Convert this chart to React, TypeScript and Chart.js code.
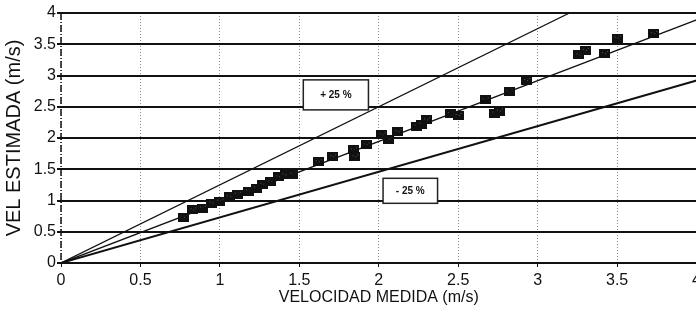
import React, { useEffect, useRef } from 'react';
import { Chart, registerables } from 'chart.js';

Chart.register(...registerables);

// Measured vs estimated velocity (m/s)
const measured = [0.77, 0.83, 0.89, 0.95, 1.0, 1.06, 1.11, 1.18, 1.23, 1.27, 1.32, 1.37, 1.41, 1.46, 1.62, 1.71, 1.84, 1.85, 1.92, 2.02, 2.06, 2.12, 2.24, 2.27, 2.3, 2.45, 2.5, 2.67, 2.73, 2.76, 2.82, 2.93, 3.26, 3.3, 3.42, 3.5, 3.73];
const estimated = [0.73, 0.85, 0.88, 0.96, 0.99, 1.06, 1.1, 1.15, 1.2, 1.26, 1.3, 1.38, 1.41, 1.42, 1.62, 1.7, 1.81, 1.7, 1.89, 2.05, 1.98, 2.1, 2.19, 2.22, 2.29, 2.39, 2.36, 2.61, 2.4, 2.43, 2.74, 2.92, 3.33, 3.4, 3.35, 3.6, 3.67];

// Reference lines (x from 0 to 4)
const lineX = [0, 4];
const plus25Y = [0, 5];
const fitY = [0, 3.89];
const minus25Y = [0, 2.92];

// Axis ticks
const tickMin = 0;
const tickMax = 4;
const tickStep = 0.5;

// Label boxes in data units
const boxLabels = ['+ 25 %', '- 25 %'];
const boxX0 = [1.525, 2.027];
const boxX1 = [1.935, 2.37];
const boxY0 = [2.45, 0.955];
const boxY1 = [2.93, 1.355];

const xTitle = 'VELOCIDAD MEDIDA (m/s)';
const yTitle = 'VEL ESTIMADA (m/s)';

const fmt = (v: any) => String(Number(v));

export default function App() {
  const ref = useRef<HTMLCanvasElement | null>(null);

  useEffect(() => {
    document.body.style.margin = '0';
    const canvas = ref.current;
    if (!canvas) return;

    const marker = document.createElement('canvas');
    marker.width = 11;
    marker.height = 9;
    const mctx = marker.getContext('2d')!;
    mctx.fillStyle = '#111';
    mctx.fillRect(0, 0, 11, 9);
    mctx.fillStyle = '#555';
    mctx.fillRect(3, 3, 1, 1);
    mctx.fillRect(6, 4, 1, 1);
    mctx.fillRect(8, 2, 1, 1);

    const axisPlugin = {
      id: 'yAxisLine',
      beforeDatasetsDraw(chart: any) {
        const { ctx, chartArea } = chart;
        ctx.save();
        ctx.strokeStyle = '#111';
        ctx.lineWidth = 1.5;
        ctx.setLineDash([7, 2, 1, 2]);
        ctx.beginPath();
        ctx.moveTo(chartArea.left, chartArea.top);
        ctx.lineTo(chartArea.left, chartArea.bottom);
        ctx.stroke();
        ctx.restore();
      },
    };

    const boxPlugin = {
      id: 'boxes',
      afterDatasetsDraw(chart: any) {
        const { ctx, scales } = chart;
        const xs = scales.x;
        const ys = scales.y;
        ctx.save();
        for (let i = 0; i < boxLabels.length; i++) {
          const l = xs.getPixelForValue(boxX0[i]);
          const r = xs.getPixelForValue(boxX1[i]);
          const t = ys.getPixelForValue(boxY1[i]);
          const b = ys.getPixelForValue(boxY0[i]);
          ctx.fillStyle = '#fff';
          ctx.fillRect(l, t, r - l, b - t);
          ctx.strokeStyle = '#222';
          ctx.lineWidth = 1.5;
          ctx.strokeRect(l, t, r - l, b - t);
          ctx.fillStyle = '#111';
          ctx.font = 'bold 10px "Liberation Sans", Arial, sans-serif';
          ctx.textAlign = 'center';
          ctx.textBaseline = 'middle';
          ctx.fillText(boxLabels[i], (l + r) / 2, (t + b) / 2);
        }
        ctx.restore();
      },
    };

    const mk = (ys: number[], w: number) => ({
      type: 'scatter' as const,
      data: lineX.map((x, i) => ({ x, y: ys[i] })),
      showLine: true,
      borderColor: '#111',
      borderWidth: w,
      pointRadius: 0,
      fill: false,
    });

    const chart = new Chart(canvas, {
      type: 'scatter',
      data: {
        datasets: [
          mk(plus25Y, 1.2),
          mk(fitY, 1.4),
          mk(minus25Y, 2),
          {
            type: 'scatter',
            data: measured.map((x, i) => ({ x, y: estimated[i] })),
            pointStyle: marker as any,
            pointRadius: 5,
            backgroundColor: '#111',
            borderColor: '#111',
          } as any,
        ],
      },
      options: {
        animation: false,
        responsive: false,
        devicePixelRatio: 1,
        layout: { padding: { top: 13, right: 4, left: 0, bottom: 0 } },
        plugins: { legend: { display: false }, tooltip: { enabled: false } },
        scales: {
          x: {
            type: 'linear',
            min: tickMin,
            max: tickMax,
            ticks: {
              stepSize: tickStep,
              color: '#111',
              padding: 4,
              maxRotation: 0,
              callback: fmt,
              font: { family: '"Liberation Sans", Arial, sans-serif', size: 16 },
            },
            grid: {
              color: '#888',
              lineWidth: 1,
              tickLength: 4,
              tickColor: '#111',
            },
            border: { display: true, color: '#111', width: 2, dash: [1, 2] },
            title: {
              display: true,
              text: xTitle,
              color: '#111',
              padding: { top: 0, bottom: 14 },
              font: { family: '"Liberation Sans", Arial, sans-serif', size: 16, lineHeight: 1.2 },
            },
            afterFit: (s: any) => {
              s.height = 58;
            },
          },
          y: {
            type: 'linear',
            min: tickMin,
            max: tickMax,
            ticks: {
              stepSize: tickStep,
              color: '#111',
              padding: 1,
              callback: fmt,
              font: { family: '"Liberation Sans", Arial, sans-serif', size: 16 },
            },
            grid: {
              color: '#111',
              lineWidth: 2,
              tickLength: 4,
              tickColor: '#111',
            },
            border: { display: false, color: '#111', width: 1.5, dash: [] },
            title: {
              display: true,
              text: yTitle,
              color: '#111',
              padding: { top: 2, bottom: 0 },
              font: { family: '"Liberation Sans", Arial, sans-serif', size: 20, lineHeight: 1.2 },
            },
            afterFit: (s: any) => {
              s.width = 61;
            },
          },
        },
      } as any,
      plugins: [axisPlugin, boxPlugin],
    });

    return () => chart.destroy();
  }, []);

  return (
    <div style={{ position: 'fixed', left: 0, top: 0, width: 696, height: 321, overflow: 'hidden', background: '#fff' }}>
      <canvas ref={ref} width={705} height={321} style={{ width: 705, height: 321, display: 'block' }} />
    </div>
  );
}
